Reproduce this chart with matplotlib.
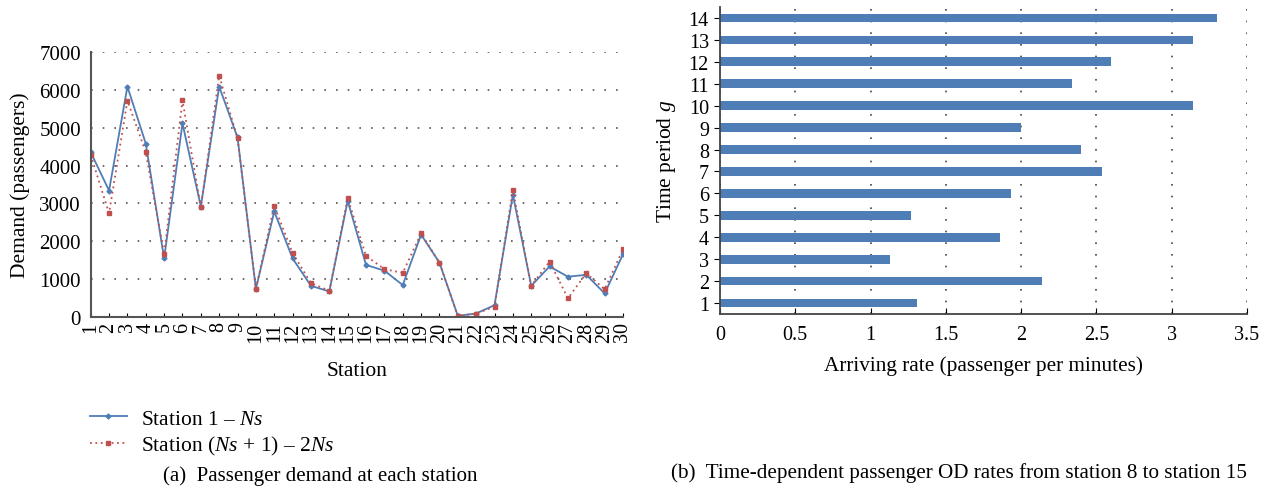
import matplotlib
matplotlib.use('Agg')
import matplotlib.pyplot as plt

plt.rcParams['font.family'] = ['Liberation Serif', 'DejaVu Serif']
plt.rcParams['mathtext.fontset'] = 'custom'
plt.rcParams['mathtext.rm'] = 'Liberation Serif'
plt.rcParams['mathtext.it'] = 'Liberation Serif:italic'

# (a) passenger demand at each station
stations = list(range(1, 31))
demand_first = [4350, 3340, 6080, 4580, 1550, 5110, 2920, 6080, 4740, 750,
                2790, 1550, 830, 680, 3070, 1380, 1230, 850, 2180, 1440,
                40, 100, 320, 3230, 830, 1340, 1070, 1120, 630, 1660]
demand_second = [4280, 2740, 5710, 4350, 1660, 5720, 2900, 6370, 4720, 750,
                 2940, 1690, 900, 700, 3140, 1620, 1270, 1170, 2210, 1440,
                 30, 100, 280, 3360, 830, 1470, 500, 1160, 740, 1790]

# (b) OD rates from station 8 to station 15
periods = list(range(1, 15))
rates = [1.31, 2.14, 1.13, 1.86, 1.27, 1.93, 2.54, 2.40, 2.00, 3.14,
         2.34, 2.60, 3.14, 3.30]

blue = '#4f7db5'
red = '#c0504d'
W, H = 1269, 489

fig = plt.figure(figsize=(12.69, 4.89), dpi=100)

def box(l, t, r, b):
    return [l / W, 1 - b / H, (r - l) / W, (b - t) / H]

# ---- left chart
ax1 = fig.add_axes(box(90.7, 52.7, 623, 318.3))
ax1.plot(stations, demand_first, color=blue, lw=1.3, marker='D', ms=2.5,
         label='Station 1 – $Ns$')
ax1.plot(stations, demand_second, color=red, lw=1.3, ls=(0, (1, 2)),
         marker='s', ms=2.5, label='Station ($Ns$ + 1) – 2$Ns$')
ax1.set_xlim(1, 30)
ax1.set_ylim(0, 7000)
ax1.set_xticks(stations)
ax1.set_xticklabels([str(s) for s in stations], rotation=90, fontsize=14.5)
ax1.set_yticks(range(0, 7001, 1000))
ax1.tick_params(axis='y', length=0, labelsize=15, pad=7)
ax1.tick_params(axis='x', direction='in', length=3, pad=3)
ax1.yaxis.grid(True, color='#555555', ls=(0, (1, 6)), lw=1.2)
for s in ['top', 'right']:
    ax1.spines[s].set_visible(False)
for s in ['left', 'bottom']:
    ax1.spines[s].set_color('#555555')
    ax1.spines[s].set_linewidth(1.5)
ax1.set_xlabel('Station', fontsize=15.5, labelpad=14)
ax1.set_ylabel('Demand (passengers)', fontsize=15.5, labelpad=7)
ax1.legend(loc='upper left', bbox_to_anchor=(81 / W, 1 - 401 / H),
           bbox_transform=fig.transFigure, frameon=False, fontsize=15.5,
           handlelength=1.75, handletextpad=0.65, labelspacing=0.25,
           borderaxespad=0)
fig.text(320 / W, 1 - 476 / H, '(a)  Passenger demand at each station',
         ha='center', va='center', fontsize=15)

# ---- right chart
ax2 = fig.add_axes(box(720, 8, 1247, 315))
ax2.barh(periods, rates, height=0.4, color=blue, zorder=2)
ax2.set_xlim(0, 3.5)
ax2.set_ylim(0.5, 14.5)
ax2.set_yticks(periods)
ax2.set_xticks([0, 0.5, 1, 1.5, 2, 2.5, 3, 3.5])
ax2.set_xticklabels(['0', '0.5', '1', '1.5', '2', '2.5', '3', '3.5'])
ax2.tick_params(axis='x', direction='in', length=4, labelsize=14.5, pad=8)
ax2.tick_params(axis='y', direction='out', length=4, labelsize=14.5, pad=4)
ax2.xaxis.grid(True, color='#444444', ls=(0, (1, 6)), lw=1.2, zorder=0)
for s in ['top', 'right']:
    ax2.spines[s].set_visible(False)
for s in ['left', 'bottom']:
    ax2.spines[s].set_color('#444444')
    ax2.spines[s].set_linewidth(1.3)
ax2.set_xlabel('Arriving rate (passenger per minutes)', fontsize=15.3, labelpad=8)
ax2.set_ylabel('Time period $g$', fontsize=15.5, labelpad=8)
fig.text(959 / W, 1 - 473 / H,
         '(b)  Time-dependent passenger OD rates from station 8 to station 15',
         ha='center', va='center', fontsize=15.2)

fig.savefig('out.png', dpi=100)
